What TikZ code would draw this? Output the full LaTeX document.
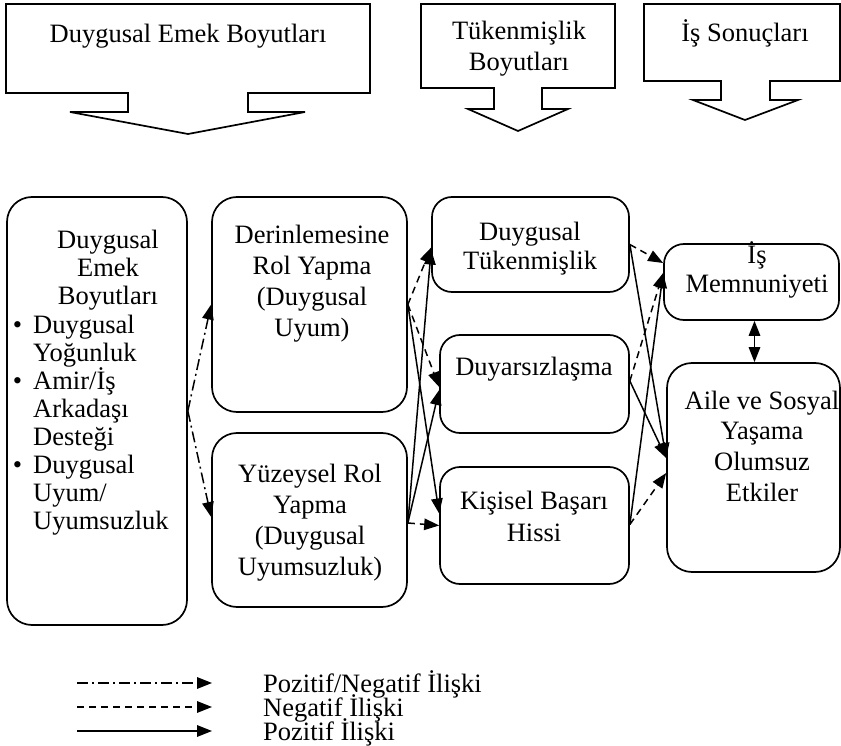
\documentclass[tikz,border=0pt]{standalone}
\usepackage{fontspec}
\setmainfont{Liberation Serif}
\usetikzlibrary{arrows.meta}
\begin{document}
\begin{tikzpicture}[x=1pt,y=-1pt,
  box/.style={draw, line width=1.7pt, rounded corners=22pt, inner sep=0pt},
  txt/.style={font=\fontsize{26.5}{31}\selectfont, align=center, inner sep=0pt},
  rel/.style={line width=1.5pt, -{Triangle[length=15pt,width=11.5pt]}},
  posrel/.style={rel},
  negrel/.style={rel, dash pattern=on 7pt off 5pt},
  pnrel/.style={rel, dash pattern=on 11pt off 4pt on 2pt off 4pt},
  callout/.style={draw, line width=1.7pt, line join=miter}]
\useasboundingbox (0,0) rectangle (841,746);

% top callout arrows
\draw[callout] (6,4) -- (370,4) -- (370,93) -- (248,93) -- (248,112) -- (305,112)
  -- (188,134) -- (70,112) -- (128,112) -- (128,93) -- (6,93) -- cycle;
\draw[callout] (421,4) -- (615,4) -- (615,88) -- (542,88) -- (542,109) -- (568,109)
  -- (518,131) -- (468,109) -- (494,109) -- (494,88) -- (421,88) -- cycle;
\draw[callout] (644,4) -- (840,4) -- (840,81) -- (770,81) -- (770,100) -- (798,100)
  -- (745,120) -- (693,100) -- (721,100) -- (721,81) -- (644,81) -- cycle;
\node[txt] (t1) at (188,36) {Duygusal Emek Boyutları};
\node[txt] (t2) at (519,48.5) {Tükenmişlik\\Boyutları};
\node[txt] (t3) at (745,33) {İş Sonuçları};

% boxes
\node[box, rounded corners=25pt, minimum width=180pt, minimum height=428pt] (L) at (97,411) {};
\node[box, rounded corners=25pt, minimum width=195pt, minimum height=215pt] (D) at (309.5,304.5) {};
\node[box, rounded corners=25pt, minimum width=195pt, minimum height=174pt] (Y) at (309.5,520) {};
\node[box, rounded corners=20pt, minimum width=197pt, minimum height=95pt] (DT) at (530.5,244.5) {};
\node[box, rounded corners=20pt, minimum width=189pt, minimum height=98pt] (DS) at (534.5,384) {};
\node[box, rounded corners=20pt, minimum width=189pt, minimum height=117pt] (K) at (534.5,525.5) {};
\node[box, rounded corners=20pt, minimum width=175pt, minimum height=76pt] (IM) at (751.5,282) {};
\node[box, rounded corners=25pt, minimum width=173pt, minimum height=209pt] (A) at (753.5,467.5) {};

% box texts
\node[txt, font=\fontsize{26.5}{28}\selectfont] (Lh) at (108,270) {Duygusal\\Emek\\Boyutları};
\node[txt, font=\fontsize{26.5}{28}\selectfont, align=left, anchor=west] (Ll) at (33,425)
  {\llap{\textbullet\hspace{11pt}}Duygusal\\Yoğunluk\\\llap{\textbullet\hspace{11pt}}Amir/İş\\Arkadaşı\\Desteği\\\llap{\textbullet\hspace{11pt}}Duygusal\\Uyum/\\Uyumsuzluk};
\node[txt] (Dt) at (312,283.5) {Derinlemesine\\Rol Yapma\\(Duygusal\\Uyum)};
\node[txt] (Yt) at (310,522.5) {Yüzeysel Rol\\Yapma\\(Duygusal\\Uyumsuzluk)};
\node[txt, font=\fontsize{26.5}{29}\selectfont] (DTt) at (530,248.5) {Duygusal\\Tükenmişlik};
\node[txt] (DSt) at (534,369) {Duyarsızlaşma};
\node[txt, font=\fontsize{26.5}{32}\selectfont] (Kt) at (534,516) {Kişisel Başarı\\Hissi};
\node[txt, font=\fontsize{26.5}{29}\selectfont] (IMt) at (757,269.5) {İş\\Memnuniyeti};
\node[txt, font=\fontsize{26.5}{30.7}\selectfont] (At) at (762,446) {Aile ve Sosyal\\Yaşama\\Olumsuz\\Etkiler};

% connectors
\draw[pnrel] (L.east) -- (D.west);
\draw[pnrel] (L.east) -- ([yshift=3pt]Y.west);
\draw[negrel] (D.east) -- ([yshift=-3pt]DT.west);
\draw[negrel] (D.east) -- ([yshift=-3pt]DS.west);
\draw[posrel] (D.east) -- ([yshift=12pt]K.west);
\draw[posrel] ([yshift=-3pt]Y.east) -- ([yshift=-5pt]DT.west);
\draw[posrel] ([yshift=-3pt]Y.east) -- ([yshift=-6pt]DS.west);
\draw[negrel] ([yshift=-3pt]Y.east) -- (K.west);

\draw[negrel] (DT.east) -- ([yshift=19pt]IM.west);
\draw[posrel] (DT.east) -- ([yshift=9.5pt]A.west);
\draw[negrel] ([yshift=3pt]DS.east) -- ([yshift=9pt]IM.west);
\draw[posrel] ([yshift=3pt]DS.east) -- ([yshift=9.5pt]A.west);
\draw[posrel] ([yshift=1pt]K.east) -- ([yshift=9pt]IM.west);
\draw[negrel] ([yshift=1pt]K.east) -- ([yshift=-5.5pt]A.west);

\draw[line width=1.5pt, {Triangle[length=15pt,width=11.5pt]}-{Triangle[length=15pt,width=11.5pt]}]
  ([xshift=3pt]IM.south) -- ([xshift=3pt]IM.south |- A.north);

% legend
\coordinate (g1s) at (77,683); \coordinate (g1e) at (212,683);
\coordinate (g2s) at (77,707); \coordinate (g2e) at (212,707);
\coordinate (g3s) at (77,731); \coordinate (g3e) at (212,731);
\draw[pnrel] (g1s) -- (g1e);
\draw[negrel] (g2s) -- (g2e);
\draw[posrel] (g3s) -- (g3e);
\node[txt, anchor=west] (g1) at (263,684) {Pozitif/Negatif İlişki};
\node[txt, anchor=west] (g2) at (263,708) {Negatif İlişki};
\node[txt, anchor=west] (g3) at (263,732) {Pozitif İlişki};
\end{tikzpicture}
\end{document}
